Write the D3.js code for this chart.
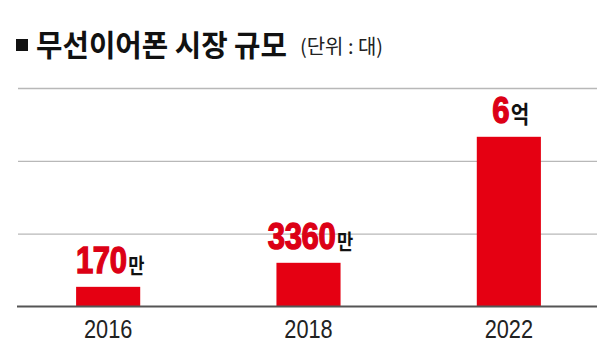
<!DOCTYPE html>
<html><head><meta charset="utf-8">
<script src="https://cdn.jsdelivr.net/npm/d3@7"></script>
<style>html,body{margin:0;padding:0;background:#fff;}svg{display:block;}</style>
</head><body>
<script>
// Data
const years = ["2016", "2018", "2022"];
const valueLabels = ["170", "3360", "6"];
const unitLabels = ["만", "만", "억"];
// Bar heights in gridline units (chart is illustrative, not to scale)
const barLevels = [0.27, 0.6, 2.33];
const gridTicks = [1, 2, 3];
const titleText = "무선이어폰 시장 규모";
const unitText = "(단위 : 대)";

const W = 597, H = 363;
const svg = d3.select("body").append("svg").attr("width", W).attr("height", H);

const x = d3.scaleBand().domain(years).range([16, 601]).paddingInner(0.68).paddingOuter(0.3);
const y = d3.scaleLinear().domain([0, 3]).range([306.5, 88]);

// Title
svg.append("rect").attr("x", 16).attr("y", 39).attr("width", 12).attr("height", 12).attr("fill", "#111");
svg.append("text").attr("x", 36).attr("y", 55.5)
  .attr("font-family", "'Noto Sans CJK KR', sans-serif").attr("font-weight", 700)
  .attr("font-size", 30).attr("fill", "#111")
  .attr("textLength", 251).attr("lengthAdjust", "spacingAndGlyphs")
  .text(titleText);
svg.append("text").attr("x", 300).attr("y", 53.5)
  .attr("font-family", "'Noto Sans CJK KR', sans-serif").attr("font-weight", 400)
  .attr("font-size", 20).attr("fill", "#222")
  .attr("textLength", 83).attr("lengthAdjust", "spacingAndGlyphs")
  .text(unitText);

// Gridlines
const yAxis = d3.axisLeft(y).tickValues(gridTicks).tickSize(-(W - 18)).tickFormat("");
const gy = svg.append("g").attr("transform", "translate(18,0)").call(yAxis);
gy.select(".domain").remove();
gy.selectAll(".tick line").attr("stroke", "#b8b8b8").attr("stroke-width", 1.3);

// Bars
svg.append("g").selectAll("rect").data(years).join("rect")
  .attr("x", d => x(d)).attr("width", x.bandwidth())
  .attr("y", (d, i) => y(barLevels[i]))
  .attr("height", (d, i) => y(0) - y(barLevels[i]))
  .attr("fill", "#e50012");

// Baseline + x axis labels
const xAxis = d3.axisBottom(x).tickSize(0).tickPadding(0);
const gx = svg.append("g").attr("transform", `translate(0,${y(0)})`).call(xAxis);
gx.select(".domain").remove();
gx.selectAll(".tick text").attr("dy", 0).attr("y", 0)
  .attr("transform", "translate(0,31.5) scale(0.87,1)")
  .attr("font-family", "'Liberation Sans', Arial, sans-serif")
  .attr("font-size", 25).attr("fill", "#222");
svg.append("line").attr("x1", 17).attr("x2", W).attr("y1", y(0)).attr("y2", y(0))
  .attr("stroke", "#555").attr("stroke-width", 2);

// Value labels
const lab = svg.append("g").selectAll("g").data(years).join("g")
  .attr("transform", (d, i) => `translate(${x(d) + x.bandwidth() / 2 + 2},${y(barLevels[i]) - 14}) scale(0.84,1)`)
  .append("text").attr("x", 0).attr("y", 0).attr("text-anchor", "middle");
lab.append("tspan")
  .attr("font-family", "'Liberation Sans', Arial, sans-serif")
  .attr("font-weight", 700).attr("font-size", 37)
  .attr("fill", "#dc0016").attr("stroke", "#dc0016").attr("stroke-width", 1.4)
  .attr("letter-spacing", -0.5)
  .text((d, i) => valueLabels[i]);
lab.append("tspan").attr("dx", 2)
  .attr("font-family", "'Noto Sans CJK KR', sans-serif")
  .attr("font-weight", 700).attr("font-size", (d, i) => unitLabels[i] === "억" ? 24 : 21)
  .attr("fill", "#111")
  .text((d, i) => unitLabels[i]);
</script>
</body></html>
